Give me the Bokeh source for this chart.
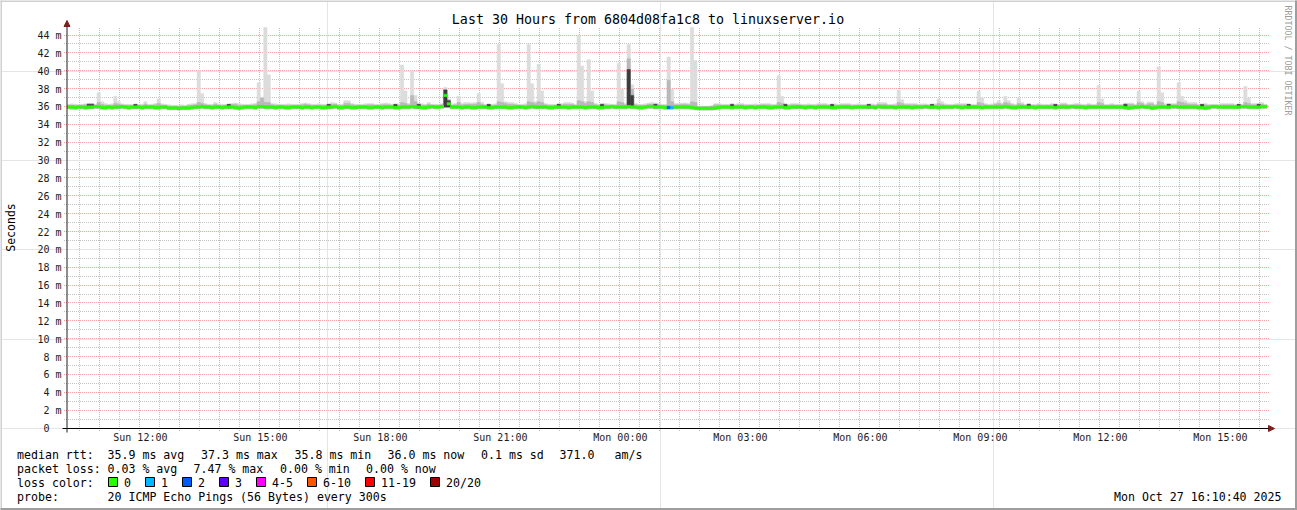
from bokeh.plotting import figure
from bokeh.models import (Range1d, FixedTicker, Label, Arrow, NormalHead, BoxAnnotation, LinearAxis)
from bokeh.embed import file_html
from bokeh.resources import INLINE
import math

FONT = "DejaVu Sans Mono"

# ---------------- time axis (minutes since Sun 00:00) ----------------
range_start = 610 + 40 / 60          # Sun 10:10:40
range_end = range_start + 30 * 60    # Mon 16:10:40
step_start0 = 610                    # first 5-minute step starts Sun 10:10
step_len = 5
Y_MAX = 44.9

# ---------------- data (ms), one value per 5-minute step, 12 per hour ----------------
median = [
    36.0, 36.0, 35.95, 36.0, 36.0, 35.95, 36.0, 36.0, 36.05, 36.05, 35.95, 35.95,
    36.0, 35.95, 36.0, 36.0, 36.05, 36.0, 35.95, 36.0, 36.0, 36.0, 35.95, 36.0,
    36.0, 36.0, 35.95, 35.95, 36.0, 36.0, 35.9, 35.9, 35.9, 35.85, 35.9, 35.9,
    35.9, 35.95, 36.0, 36.0, 36.05, 36.0, 36.0, 35.95, 36.0, 36.0, 35.95, 36.0,
    36.0, 36.0, 35.95, 35.9, 35.95, 36.0, 36.0, 36.0, 35.95, 36.05, 36.05, 36.0,
    36.0, 36.0, 35.95, 36.0, 36.0, 35.95, 35.95, 36.0, 36.0, 36.0, 35.95, 36.0,
    36.0, 35.95, 36.0, 36.0, 35.95, 35.95, 36.0, 36.0, 36.05, 35.95, 35.95, 36.0,
    36.0, 35.95, 35.95, 36.0, 36.0, 36.0, 35.95, 35.95, 36.0, 36.0, 35.95, 36.0,
    36.0, 36.0, 35.95, 35.95, 36.0, 36.0, 36.0, 36.05, 36.0, 36.0, 35.95, 35.95,
    36.0, 36.05, 36.0, 36.0, 36.05, 37.3, 36.35, 36.0, 36.0, 36.0, 35.95, 36.0,
    36.0, 35.95, 35.95, 36.0, 36.0, 36.0, 35.95, 35.95, 36.0, 36.0, 36.0, 36.0,
    35.95, 35.95, 36.0, 36.0, 36.0, 35.95, 36.0, 36.05, 36.0, 36.0, 36.0, 36.0,
    35.95, 35.95, 36.0, 36.0, 36.0, 36.0, 35.95, 36.0, 36.0, 36.0, 36.0, 35.95,
    36.0, 36.0, 36.0, 35.95, 35.95, 36.0, 36.0, 36.05, 36.0, 36.0, 36.0, 36.0,
    36.05, 36.0, 36.0, 35.95, 35.95, 36.0, 36.05, 36.05, 36.0, 36.0, 36.0, 35.95,
    35.95, 35.95, 36.0, 36.0, 36.0, 36.0, 36.0, 35.95, 35.9, 35.85, 35.85, 35.85,
    35.85, 35.85, 35.9, 35.95, 36.0, 36.0, 36.0, 35.95, 36.0, 36.0, 36.0, 35.95,
    36.0, 36.0, 35.95, 36.0, 36.0, 36.0, 35.95, 35.95, 36.0, 36.0, 36.0, 35.95,
    35.95, 36.0, 36.0, 36.0, 36.0, 35.95, 36.0, 36.0, 35.95, 36.0, 36.0, 36.0,
    36.0, 35.95, 35.95, 36.0, 36.0, 36.0, 36.0, 35.95, 36.0, 36.0, 36.0, 36.0,
    36.0, 36.0, 35.95, 36.05, 36.0, 36.0, 36.0, 36.0, 35.95, 36.0, 36.0, 36.0,
    36.0, 35.95, 36.0, 36.0, 36.0, 36.05, 36.0, 36.0, 36.0, 35.95, 36.0, 36.0,
    36.0, 36.0, 36.05, 36.0, 35.95, 36.0, 36.0, 36.0, 36.0, 36.0, 35.95, 36.0,
    36.0, 36.0, 36.0, 36.0, 36.0, 36.05, 36.0, 35.95, 35.95, 36.0, 36.0, 36.0,
    36.0, 36.0, 35.95, 36.0, 36.0, 36.0, 36.0, 36.0, 35.95, 36.0, 36.0, 36.0,
    36.0, 36.05, 36.0, 36.0, 36.0, 35.95, 36.0, 36.0, 36.0, 36.0, 36.0, 36.0,
    36.0, 36.0, 36.0, 36.0, 36.0, 35.95, 35.9, 35.95, 36.0, 36.0, 36.05, 36.0,
    36.0, 35.9, 35.95, 36.0, 36.0, 36.0, 36.0, 36.05, 36.05, 36.0, 36.0, 36.0,
    36.0, 36.0, 36.0, 35.95, 35.95, 35.9, 35.95, 36.05, 36.05, 36.0, 36.0, 36.0,
    36.0, 36.0, 36.0, 36.0, 36.05, 36.05, 36.0, 36.0, 36.0, 36.0, 36.05, 36.05,
]

smoke_max = [
    36.3, 36.35, 36.3, 36.25, 36.3, 36.35, 36.4, 36.4, 36.3, 37.6, 36.6, 36.4,
    36.3, 36.35, 37.2, 36.6, 36.35, 36.3, 36.3, 36.25, 36.3, 36.3, 36.3, 36.6,
    36.3, 36.3, 36.4, 36.9, 36.35, 36.3, 36.25, 36.2, 36.2, 36.2, 36.25, 36.2,
    36.3, 36.35, 36.4, 40.1, 37.5, 36.4, 36.3, 36.3, 36.5, 36.35, 36.3, 36.3,
    36.3, 36.4, 36.45, 36.4, 36.3, 36.3, 36.3, 36.35, 36.4, 38.7, 37.1, 46.0,
    39.6, 36.4, 36.35, 36.3, 36.3, 36.3, 36.35, 36.3, 36.3, 36.3, 36.4, 36.45,
    36.4, 36.3, 36.3, 36.35, 36.3, 36.3, 36.3, 36.5, 36.45, 36.3, 36.3, 36.7,
    36.7, 36.4, 36.3, 36.3, 36.3, 36.35, 36.4, 36.4, 36.3, 36.3, 36.4, 36.45,
    36.4, 36.3, 36.3, 36.35, 40.7, 37.8, 36.4, 40.1, 37.3, 36.4, 36.35, 36.3,
    36.5, 36.3, 36.3, 36.3, 36.4, 38.2, 36.9, 36.3, 36.4, 37.2, 36.4, 36.5,
    36.5, 36.45, 36.5, 37.5, 36.5, 36.3, 36.3, 36.3, 36.35, 43.0, 38.6, 36.6,
    36.5, 36.5, 36.4, 36.3, 36.3, 36.35, 43.0, 38.6, 36.6, 40.8, 37.8, 36.4,
    36.3, 36.3, 36.3, 36.35, 36.4, 36.5, 36.5, 36.45, 36.3, 44.0, 40.6, 36.6,
    41.3, 37.8, 36.4, 36.3, 36.4, 36.4, 36.35, 36.3, 36.3, 40.9, 38.0, 36.4,
    43.0, 38.5, 36.4, 36.3, 36.3, 36.35, 36.45, 36.5, 36.45, 36.4, 36.3, 36.3,
    41.6, 38.0, 36.4, 36.4, 36.45, 36.45, 36.4, 46.0, 41.2, 36.1, 36.1, 36.1,
    36.1, 36.15, 36.4, 36.4, 36.3, 36.3, 36.3, 36.35, 36.3, 36.4, 36.4, 36.3,
    36.3, 36.3, 36.35, 36.3, 36.4, 36.4, 36.4, 36.3, 36.3, 39.5, 37.2, 36.35,
    36.3, 36.4, 36.4, 36.4, 36.3, 36.3, 36.35, 36.3, 36.3, 36.4, 36.4, 36.4,
    36.3, 36.3, 36.35, 36.3, 36.4, 36.4, 36.4, 36.3, 36.3, 36.35, 36.3, 36.3,
    36.3, 36.35, 36.3, 36.5, 36.5, 36.5, 36.3, 36.3, 36.35, 37.9, 36.8, 36.4,
    36.4, 36.4, 36.4, 36.3, 36.35, 36.35, 36.3, 36.3, 36.35, 36.9, 36.6, 36.35,
    36.3, 36.3, 36.35, 36.4, 36.4, 36.4, 36.3, 36.3, 36.3, 37.8, 37.0, 36.4,
    36.3, 36.35, 36.45, 36.7, 36.45, 37.2, 36.7, 36.4, 36.3, 37.0, 36.5, 36.3,
    36.4, 36.3, 36.3, 36.4, 36.3, 36.3, 36.3, 36.4, 36.3, 36.3, 36.45, 36.45,
    36.3, 36.3, 36.4, 36.4, 36.3, 36.3, 36.4, 36.3, 36.3, 38.4, 36.9, 36.3,
    36.3, 36.4, 36.3, 36.3, 36.3, 36.45, 36.45, 36.45, 36.3, 37.8, 36.6, 36.35,
    36.55, 36.55, 36.3, 40.5, 37.6, 36.35, 36.4, 36.4, 36.4, 38.7, 37.2, 36.7,
    36.5, 36.5, 36.5, 36.3, 36.3, 36.4, 36.3, 36.3, 36.3, 36.3, 36.4, 36.4,
    36.4, 36.4, 36.3, 36.3, 36.3, 38.3, 37.0, 36.4, 36.4, 36.4, 36.5, 36.3,
]

smoke_upper = [
    36.2, 36.2, 36.2, 36.2, 36.2, 36.25, 36.35, 36.35, 36.2, 36.5, 36.3, 36.2,
    36.2, 36.2, 36.4, 36.3, 36.2, 36.2, 36.2, 36.2, 36.2, 36.2, 36.2, 36.3,
    36.2, 36.2, 36.25, 36.4, 36.2, 36.2, 36.1, 36.1, 36.1, 36.1, 36.1, 36.1,
    36.2, 36.2, 36.25, 36.5, 36.4, 36.25, 36.2, 36.2, 36.3, 36.2, 36.2, 36.2,
    36.2, 36.3, 36.3, 36.2, 36.2, 36.2, 36.2, 36.2, 36.25, 36.6, 37.0, 36.5,
    36.5, 36.25, 36.2, 36.2, 36.2, 36.2, 36.2, 36.2, 36.2, 36.2, 36.25, 36.3,
    36.25, 36.2, 36.2, 36.2, 36.2, 36.2, 36.2, 36.3, 36.3, 36.2, 36.2, 36.4,
    36.4, 36.25, 36.2, 36.2, 36.2, 36.2, 36.25, 36.25, 36.2, 36.2, 36.25, 36.25,
    36.25, 36.2, 36.2, 36.2, 36.5, 36.4, 36.25, 37.3, 36.6, 36.25, 36.2, 36.2,
    36.3, 36.2, 36.2, 36.2, 36.25, 38.0, 36.8, 36.2, 36.25, 36.5, 36.25, 36.3,
    36.3, 36.3, 36.3, 36.5, 36.3, 36.2, 36.2, 36.2, 36.2, 36.6, 36.5, 36.4,
    36.3, 36.3, 36.25, 36.2, 36.2, 36.2, 36.6, 36.5, 36.4, 36.6, 36.5, 36.25,
    36.2, 36.2, 36.2, 36.2, 36.25, 36.3, 36.3, 36.3, 36.2, 36.7, 36.6, 36.4,
    36.6, 36.5, 36.25, 36.2, 36.25, 36.25, 36.2, 36.2, 36.2, 36.6, 36.5, 36.25,
    41.4, 38.0, 36.25, 36.2, 36.2, 36.2, 36.3, 36.3, 36.3, 36.25, 36.2, 36.2,
    39.0, 36.6, 36.25, 36.25, 36.3, 36.3, 36.25, 36.6, 36.5, 36.05, 36.05, 36.05,
    36.05, 36.1, 36.25, 36.25, 36.2, 36.2, 36.2, 36.2, 36.2, 36.25, 36.25, 36.2,
    36.2, 36.2, 36.2, 36.2, 36.25, 36.25, 36.25, 36.2, 36.2, 36.5, 36.4, 36.2,
    36.2, 36.25, 36.25, 36.25, 36.2, 36.2, 36.2, 36.2, 36.2, 36.25, 36.25, 36.25,
    36.2, 36.2, 36.2, 36.2, 36.25, 36.25, 36.25, 36.2, 36.2, 36.2, 36.2, 36.2,
    36.2, 36.2, 36.2, 36.3, 36.3, 36.3, 36.2, 36.2, 36.2, 36.5, 36.4, 36.25,
    36.25, 36.25, 36.25, 36.2, 36.2, 36.2, 36.2, 36.2, 36.2, 36.4, 36.3, 36.2,
    36.2, 36.2, 36.2, 36.25, 36.25, 36.25, 36.2, 36.2, 36.2, 36.5, 36.4, 36.25,
    36.2, 36.2, 36.3, 36.4, 36.3, 36.5, 36.4, 36.25, 36.2, 36.4, 36.3, 36.2,
    36.25, 36.2, 36.2, 36.25, 36.2, 36.2, 36.2, 36.25, 36.2, 36.2, 36.3, 36.3,
    36.2, 36.2, 36.25, 36.25, 36.2, 36.2, 36.25, 36.2, 36.2, 36.5, 36.4, 36.2,
    36.2, 36.25, 36.2, 36.2, 36.2, 36.3, 36.3, 36.3, 36.2, 36.5, 36.4, 36.2,
    36.35, 36.35, 36.2, 36.6, 36.5, 36.2, 36.25, 36.25, 36.25, 36.6, 36.5, 36.4,
    36.3, 36.3, 36.3, 36.2, 36.2, 36.25, 36.2, 36.2, 36.2, 36.2, 36.25, 36.25,
    36.25, 36.25, 36.2, 36.2, 36.2, 36.5, 36.4, 36.25, 36.25, 36.25, 36.3, 36.2,
]

smoke_min = [
    35.8, 35.75, 35.75, 35.8, 35.8, 35.75, 35.8, 35.8, 35.85, 35.8, 35.75, 35.75,
    35.8, 35.75, 35.8, 35.8, 35.85, 35.8, 35.75, 35.8, 35.8, 35.8, 35.75, 35.8,
    35.8, 35.8, 35.75, 35.75, 35.8, 35.8, 35.7, 35.7, 35.7, 35.65, 35.7, 35.7,
    35.7, 35.75, 35.8, 35.8, 35.85, 35.8, 35.8, 35.75, 35.8, 35.8, 35.75, 35.8,
    35.8, 35.8, 35.75, 35.7, 35.75, 35.8, 35.8, 35.8, 35.75, 35.85, 35.85, 35.8,
    35.8, 35.8, 35.75, 35.8, 35.8, 35.75, 35.75, 35.8, 35.8, 35.8, 35.75, 35.8,
    35.8, 35.75, 35.8, 35.8, 35.75, 35.75, 35.8, 35.8, 35.85, 35.75, 35.75, 35.8,
    35.8, 35.75, 35.75, 35.8, 35.8, 35.8, 35.75, 35.75, 35.8, 35.8, 35.75, 35.8,
    35.8, 35.8, 35.75, 35.75, 35.8, 35.8, 35.8, 35.85, 35.8, 35.8, 35.75, 35.75,
    35.8, 35.85, 35.8, 35.8, 35.85, 35.95, 35.95, 35.8, 35.8, 35.8, 35.75, 35.8,
    35.8, 35.75, 35.75, 35.8, 35.8, 35.8, 35.75, 35.75, 35.8, 35.8, 35.8, 35.8,
    35.75, 35.75, 35.8, 35.8, 35.8, 35.75, 35.8, 35.85, 35.8, 35.8, 35.8, 35.8,
    35.75, 35.75, 35.8, 35.8, 35.8, 35.8, 35.75, 35.8, 35.8, 35.8, 35.8, 35.75,
    35.8, 35.8, 35.8, 35.75, 35.75, 35.8, 35.8, 35.85, 35.8, 35.8, 35.8, 35.8,
    35.85, 35.8, 35.8, 35.75, 35.75, 35.8, 35.85, 35.85, 35.8, 35.8, 35.8, 35.75,
    35.75, 35.75, 35.8, 35.8, 35.8, 35.8, 35.8, 35.75, 35.7, 35.65, 35.65, 35.65,
    35.65, 35.65, 35.7, 35.75, 35.8, 35.8, 35.8, 35.75, 35.8, 35.8, 35.8, 35.75,
    35.8, 35.8, 35.75, 35.8, 35.8, 35.8, 35.75, 35.75, 35.8, 35.8, 35.8, 35.75,
    35.75, 35.8, 35.8, 35.8, 35.8, 35.75, 35.8, 35.8, 35.75, 35.8, 35.8, 35.8,
    35.8, 35.75, 35.75, 35.8, 35.8, 35.8, 35.8, 35.75, 35.8, 35.8, 35.8, 35.8,
    35.8, 35.8, 35.75, 35.85, 35.8, 35.8, 35.8, 35.8, 35.75, 35.8, 35.8, 35.8,
    35.8, 35.75, 35.8, 35.8, 35.8, 35.85, 35.8, 35.8, 35.8, 35.75, 35.8, 35.8,
    35.8, 35.8, 35.85, 35.8, 35.75, 35.8, 35.8, 35.8, 35.8, 35.8, 35.75, 35.8,
    35.8, 35.8, 35.8, 35.8, 35.8, 35.85, 35.8, 35.75, 35.75, 35.8, 35.8, 35.8,
    35.8, 35.8, 35.75, 35.8, 35.8, 35.8, 35.8, 35.8, 35.75, 35.8, 35.8, 35.8,
    35.8, 35.85, 35.8, 35.8, 35.8, 35.75, 35.8, 35.8, 35.8, 35.8, 35.8, 35.8,
    35.8, 35.8, 35.8, 35.8, 35.8, 35.75, 35.7, 35.75, 35.8, 35.8, 35.85, 35.8,
    35.8, 35.7, 35.75, 35.8, 35.8, 35.8, 35.8, 35.85, 35.85, 35.8, 35.8, 35.8,
    35.8, 35.8, 35.8, 35.75, 35.75, 35.7, 35.75, 35.85, 35.85, 35.8, 35.8, 35.8,
    35.8, 35.8, 35.8, 35.8, 35.85, 35.85, 35.8, 35.8, 35.8, 35.8, 35.85, 35.85,
]

# dense (dark) core of the smoke, only where it is visible
dark_steps   = [6, 7, 20, 48, 78, 98, 105, 113, 114, 126, 147, 160, 168, 169, 176, 199,
                215, 229, 240, 259, 270, 288, 296, 317, 330, 340, 351, 357]
dark_bottoms = [35.9, 35.9, 35.9, 35.9, 35.9, 35.9, 35.9, 36.0, 36.0, 35.9, 35.9, 35.9, 36.0, 36.0, 35.9, 35.9,
                35.9, 35.9, 35.9, 35.9, 35.9, 35.9, 35.9, 35.9, 35.9, 35.9, 35.9, 35.9]
dark_tops    = [36.3, 36.3, 36.3, 36.3, 36.3, 36.3, 36.3, 37.9, 36.7, 36.3, 36.3, 36.3, 40.2, 37.3, 36.3, 36.3,
                36.3, 36.3, 36.3, 36.3, 36.3, 36.3, 36.3, 36.3, 36.3, 36.3, 36.3, 36.3]

# packet loss (pings lost out of 20) where non-zero
loss_steps = [180, 181]
loss_pings = [2, 1]

loss_labels = ["0", "1", "2", "3", "4-5", "6-10", "11-19", "20/20"]
loss_colors = ["#26ff00", "#00b8ff", "#0059ff", "#5e00ff", "#ff00ff", "#ff5500", "#ff0000", "#a10000"]

y_ticks = list(range(0, 45, 2))
y_minor = list(range(1, 45, 2))
y_labels = ["0\u00a0\u00a0"] + ["%d m" % v for v in y_ticks[1:]]

hour_ticks = list(range(660, 2401, 60))
half_ticks = list(range(630, 2401, 60))
x_label_ticks = [720, 900, 1080, 1260, 1440, 1620, 1800, 1980, 2160, 2340]
x_labels = ["Sun 12:00", "Sun 15:00", "Sun 18:00", "Sun 21:00", "Mon 00:00",
            "Mon 03:00", "Mon 06:00", "Mon 09:00", "Mon 12:00", "Mon 15:00"]

title_text = "Last 30 Hours from 6804d08fa1c8 to linuxserver.io"
legend_rtt = [("median rtt:", 16.5), ("35.9 ms avg", 107), ("37.3 ms max", 200.5),
              ("35.8 ms min", 294), ("36.0 ms now", 387), ("0.1 ms sd", 480.5),
              ("371.0", 559), ("am/s", 614)]
legend_loss = [("packet loss:", 16.5), ("0.03 % avg", 107), ("7.47 % max", 193),
               ("0.00 % min", 279.5), ("0.00 % now", 365.5)]
probe_text = "20 ICMP Echo Pings (56 Bytes) every 300s"
date_text = "Mon Oct 27 16:10:40 2025"

# ---------------- styling (rrdtool default palette) ----------------
BG = "#f2f2f2"
SHADE_A = "#cfcfcf"
SHADE_B = "#9e9e9e"
LIGHT = "#dcdcdc"
MID = "#b9b9b9"
DARK = "#3c3c3c"
MGRID = "#f0a6a6"
GRID = "#c2c2c2"
ARROW = "#801f1f"
AXIS = "#1f1f1f"

W, H = 1297, 510
PX_L, PX_R, PX_T, PX_B = 67, 1267, 27, 428      # plot area in the picture
PXMS = (PX_B - PX_T) / Y_MAX
PXMIN = (PX_R - PX_L) / (range_end - range_start)
HALF_PX = 0.5   # the renderer draws at a half-pixel offset; crisp shapes are placed accordingly


def dx(px):
    return range_start + (px - PX_L) / PXMIN


def dy(py):
    return (PX_B - py) / PXMS


def snap_x(t):      # data x -> data x of a whole pixel
    return dx(math.floor(PX_L + (t - range_start) * PXMIN))


def snap_y(v):
    return dy(math.floor(PX_B - v * PXMS))


p = figure(width=W, height=H, output_backend="svg", toolbar_location=None, title=None,
           x_range=Range1d(dx(0), dx(W)), y_range=Range1d(dy(H), dy(0)),
           x_axis_location=None, y_axis_location=None, min_border=0)
p.background_fill_color = None
p.border_fill_color = BG
p.outline_line_color = None

# white canvas of the graph
p.quad(left=[dx(PX_L - HALF_PX)], right=[dx(PX_R - HALF_PX)],
       bottom=[dy(PX_B - HALF_PX)], top=[dy(PX_T - HALF_PX)],
       fill_color="white", line_color=None, level="image")

# ---------------- axes ----------------
xticker = FixedTicker(ticks=hour_ticks, minor_ticks=half_ticks)
yticker = FixedTicker(ticks=y_ticks, minor_ticks=y_minor)

xaxis = LinearAxis(ticker=xticker, fixed_location=0)
xaxis.major_label_overrides = {t: (x_labels[x_label_ticks.index(t)] if t in x_label_ticks else "")
                               for t in hour_ticks}
xaxis.major_label_standoff = 3
yaxis = LinearAxis(ticker=yticker, fixed_location=range_start)
yaxis.major_label_overrides = {t: l for t, l in zip(y_ticks, y_labels)}
yaxis.major_label_standoff = 6
for ax in (xaxis, yaxis):
    ax.axis_line_color = None
    ax.major_tick_line_color = None
    ax.minor_tick_line_color = None
    ax.major_tick_in = 0
    ax.major_tick_out = 0
    ax.minor_tick_in = 0
    ax.minor_tick_out = 0
    ax.major_label_text_font = FONT
    ax.major_label_text_font_size = "10px"
    ax.major_label_text_color = "#1a1a1a"
p.add_layout(xaxis, "below")
p.add_layout(yaxis, "left")


# ---------------- dotted grid (1 on, 1 off), on whole pixels ----------------
def vlines(ticks, color):
    xs = [snap_x(t) for t in ticks]
    p.segment(x0=xs, y0=[dy(431 - HALF_PX)] * len(xs), x1=xs, y1=[dy(27 - HALF_PX)] * len(xs),
              line_color=color, line_width=1, line_dash="1 1", line_cap="butt", level="underlay")


def hlines(ticks, color):
    ys = [snap_y(v) for v in ticks]
    p.segment(x0=[dx(64 - HALF_PX)] * len(ys), y0=ys, x1=[dx(1269 - HALF_PX)] * len(ys), y1=ys,
              line_color=color, line_width=1, line_dash="1 1", line_cap="butt", level="underlay")


vlines(half_ticks, GRID)
hlines(y_minor, GRID)
vlines(hour_ticks, MGRID)
hlines(y_ticks[1:], MGRID)

# ---------------- smoke ----------------
n = len(median)
t0 = [max(step_start0 + step_len * k, range_start) for k in range(n)]
t1 = [min(step_start0 + step_len * (k + 1), range_end) for k in range(n)]
top_clip = [min(v, Y_MAX) for v in smoke_max]

p.quad(left=t0, right=t1, bottom=smoke_min, top=top_clip,
       fill_color=LIGHT, line_color=LIGHT, line_width=0.5)
p.quad(left=t0, right=t1, bottom=smoke_min, top=smoke_upper,
       fill_color=MID, line_color=MID, line_width=0.5)
p.quad(left=[t0[k] for k in dark_steps], right=[t1[k] for k in dark_steps],
       bottom=dark_bottoms, top=dark_tops, fill_color=DARK, line_color=DARK, line_width=0.5)

# median band (about 3 px tall), coloured by packet loss
half = 1.25 / PXMS
med_colors = [loss_colors[0]] * n
for k, lp in zip(loss_steps, loss_pings):
    med_colors[k] = loss_colors[lp]
p.quad(left=t0, right=t1, bottom=[m - half for m in median], top=[m + half for m in median],
       fill_color=med_colors, line_color=med_colors, line_width=0.5)

# axis lines with arrow heads
p.add_layout(Arrow(end=NormalHead(size=6, fill_color=ARROW, line_color=ARROW, line_width=1),
                   x_start=dx(62), y_start=dy(428), x_end=dx(1274), y_end=dy(428),
                   line_color="black", line_width=1))
p.add_layout(Arrow(end=NormalHead(size=6, fill_color=ARROW, line_color=ARROW, line_width=1),
                   x_start=dx(66.5), y_start=dy(432), x_end=dx(66.5), y_end=dy(20),
                   line_color=AXIS, line_width=1))


# ---------------- texts (picture pixel positions) ----------------
def text(s, px, py, size="11.6px", align="left", angle=0.0, color="black"):
    p.add_layout(Label(x=px, y=H - py, x_units="screen", y_units="screen", text=s,
                       text_font=FONT, text_font_size=size, text_align=align,
                       text_baseline="middle", angle=angle, text_color=color))


def box(l, r, t, b, color, line=None, shift=0.0):
    p.add_layout(BoxAnnotation(left=l - shift, right=r - shift, top=H - t + shift, bottom=H - b + shift,
                               left_units="screen", right_units="screen",
                               top_units="screen", bottom_units="screen",
                               fill_color=color, fill_alpha=1.0,
                               line_color=line, line_alpha=1.0, line_width=1, level="overlay"))


text(title_text, 647.5, 19, size="13.3px", align="center")
text("Seconds", 10, 227, size="11.5px", align="center", angle=math.pi / 2)
text("RRDTOOL / TOBI OETIKER", 1287, 60, size="8.3px", align="center", angle=-math.pi / 2,
     color="#9c9c9c")

for s, x in legend_rtt:
    text(s, x, 454)
for s, x in legend_loss:
    text(s, x, 468)
text("loss color:", 16.5, 482)
sq_left = [108, 145, 182, 219, 256, 307, 365, 430]
for lab, col, xl in zip(loss_labels, loss_colors, sq_left):
    box(xl, xl + 9, 477, 486, col, line="black")
    text(lab, xl + 15.5, 482)
text("probe:", 16.5, 496)
text(probe_text, 107, 496)
text(date_text, 1281, 496, align="right")

# picture frame edges (3-D shading)
box(0, W, 0, 2, SHADE_A, shift=HALF_PX)
box(0, 2, 0, H, SHADE_A, shift=HALF_PX)
box(0, W, H - 2, H + 1, SHADE_B, shift=HALF_PX)
box(W - 2, W + 1, 0, H, SHADE_B, shift=HALF_PX)

open("out.html", "w").write(file_html(p, INLINE))
